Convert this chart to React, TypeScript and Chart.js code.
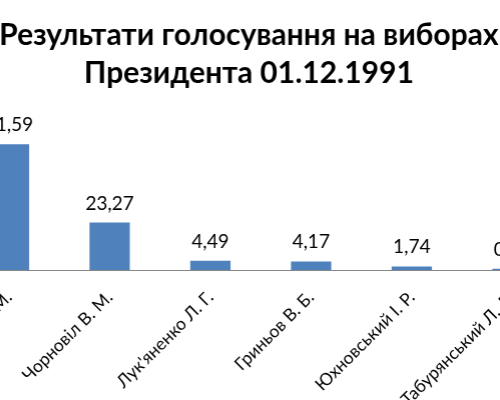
import React, { useEffect, useRef } from "react";
import { Chart, registerables } from "chart.js";

Chart.register(...registerables);

const candidates = [
  "Кравчук Л. М.",
  "Чорновіл В. М.",
  "Лук'яненко Л. Г.",
  "Гриньов В. Б.",
  "Юхновський І. Р.",
  "Табурянський Л. Л.",
];
const votes = [61.59, 23.27, 4.49, 4.17, 1.74, 0.57];
const titleLines = ["Результати голосування на виборах", "Президента 01.12.1991"];
const yMin = 0;
const yMax = 70;

const FONT = "Lato, 'Open Sans', 'DejaVu Sans', sans-serif";

const valueLabels = {
  id: "valueLabels",
  afterDatasetsDraw(chart: any) {
    const ctx = chart.ctx;
    const meta = chart.getDatasetMeta(0);
    ctx.save();
    ctx.font = `19px ${FONT}`;
    ctx.fillStyle = "#000";
    ctx.textAlign = "center";
    ctx.textBaseline = "alphabetic";
    meta.data.forEach((bar: any, i: number) => {
      const text = votes[i].toFixed(2).replace(".", ",");
      ctx.fillText(text, bar.x, bar.y - 13);
    });
    ctx.restore();
  },
};

export default function App() {
  const ref = useRef<HTMLCanvasElement>(null);

  useEffect(() => {
    if (!ref.current) return;
    const chart = new Chart(ref.current, {
      type: "bar",
      data: {
        labels: candidates,
        datasets: [
          {
            data: votes,
            backgroundColor: "#4F81BD",
            borderWidth: 0,
            barPercentage: 1,
            categoryPercentage: 0.4,
          },
        ],
      },
      options: {
        animation: false,
        responsive: true,
        maintainAspectRatio: false,
        layout: { padding: 0 },
        plugins: {
          legend: { display: false },
          tooltip: { enabled: false },
          title: {
            display: true,
            text: titleLines,
            color: "#000",
            font: { family: FONT, size: 30, weight: "bold", lineHeight: 1.27 },
            padding: { top: 16, bottom: 35 },
          },
        },
        scales: {
          x: {
            grid: { display: false },
            border: { display: true, color: "#868686", width: 1 },
            ticks: {
              color: "#000",
              font: { family: FONT, size: 17.5 },
              minRotation: 45,
              maxRotation: 45,
              autoSkip: false,
              padding: 9,
            },
            afterFit: (s: any) => {
              s.height = 130;
              s.paddingLeft = 0;
              s.paddingRight = 0;
            },
          },
          y: {
            min: yMin,
            max: yMax,
            grid: { display: false },
            border: { display: false },
            ticks: { display: false },
            afterFit: (s: any) => {
              s.width = 23.6;
            },
          },
        },
      },
      plugins: [valueLabels],
    });
    return () => chart.destroy();
  }, []);

  return (
    <div style={{ position: "fixed", inset: 0, overflow: "hidden", background: "#fff" }}>
      <div style={{ position: "absolute", left: -65.3, top: 0, width: 626.8, height: 400 }}>
        <canvas ref={ref} />
      </div>
    </div>
  );
}
